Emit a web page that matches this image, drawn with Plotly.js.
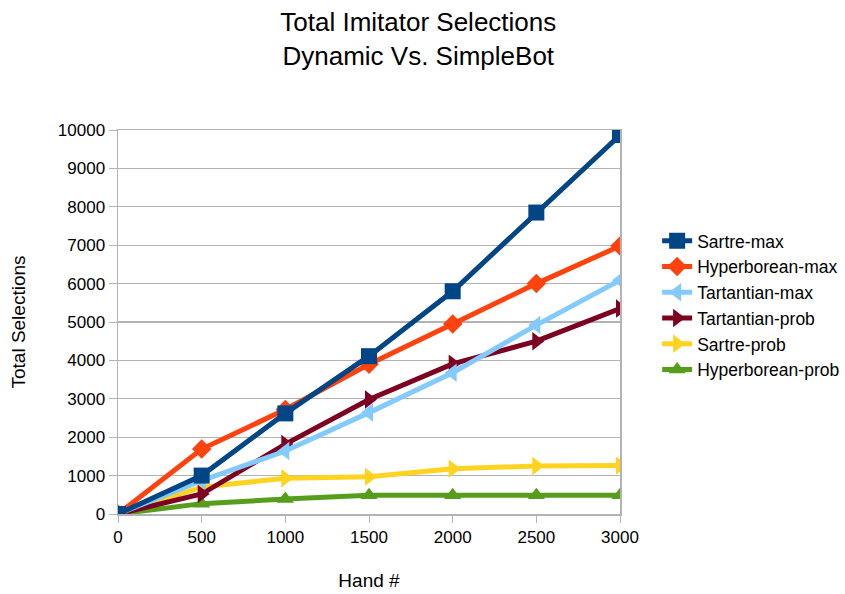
<!DOCTYPE html>
<html>
<head>
<meta charset="utf-8">
<script src="https://cdn.plot.ly/plotly-3.0.1.min.js"></script>
<style>
  html, body { margin: 0; padding: 0; background: #fff; }
  #chart { width: 845px; height: 594px; }
</style>
</head>
<body>
<div id="chart"></div>
<script>
// Hand numbers on the x axis
const hands = [0, 500, 1000, 1500, 2000, 2500, 3000];

// Cumulative imitator selections per bot configuration
const sartreMax = [0, 1000, 2620, 4110, 5800, 7850, 9870];
const hyperboreanMax = [0, 1690, 2720, 3900, 4950, 6000, 6980];
const tartantianMax = [0, 870, 1640, 2640, 3680, 4920, 6090];
const tartantianProb = [0, 520, 1820, 2980, 3910, 4500, 5350];
const sartreProb = [0, 700, 930, 970, 1180, 1250, 1260];
const hyperboreanProb = [0, 270, 390, 490, 490, 490, 490];

const seriesNames = ['Sartre-max', 'Hyperborean-max', 'Tartantian-max',
                     'Tartantian-prob', 'Sartre-prob', 'Hyperborean-prob'];
const seriesValues = [sartreMax, hyperboreanMax, tartantianMax,
                      tartantianProb, sartreProb, hyperboreanProb];
const seriesColors = ['#004586', '#ff420e', '#83caff', '#7e0021', '#ffd320', '#579d1c'];
const seriesSymbols = ['square', 'diamond', 'triangle-left', 'triangle-right',
                       'triangle-right', 'triangle-up'];
const seriesSizes = [16, 15, 16, 16, 16, 15];

// Draw lowest-priority series first so the max series sit on top
const order = [5, 4, 3, 2, 1, 0];
const traces = order.map(i => ({
  type: 'scatter',
  mode: 'lines+markers',
  name: seriesNames[i],
  x: hands,
  y: seriesValues[i],
  line: { color: seriesColors[i], width: 5 },
  marker: { color: seriesColors[i], symbol: seriesSymbols[i], size: seriesSizes[i] },
  legendrank: i + 1
}));

const layout = {
  width: 845,
  height: 594,
  paper_bgcolor: '#ffffff',
  plot_bgcolor: '#ffffff',
  font: { family: 'Liberation Sans, Arial, sans-serif', color: '#000' },
  title: {
    text: 'Total Imitator Selections<br>Dynamic Vs. SimpleBot',
    font: { size: 26, color: '#000' },
    x: 0.495, xanchor: 'center',
    y: 0.948, yanchor: 'middle'
  },
  margin: { l: 118, r: 225, t: 130, b: 80, autoexpand: false },
  showlegend: true,
  legend: {
    x: 1.074, xanchor: 'left',
    y: 0.758, yanchor: 'top',
    font: { size: 17.5, color: '#000' },
    tracegroupgap: 0,
    itemwidth: 30,
    traceorder: 'normal'
  },
  xaxis: {
    range: [0, 3000],
    tickvals: hands,
    ticktext: hands.map(String),
    showgrid: false,
    zeroline: false,
    showline: true,
    linecolor: '#b3b3b3',
    linewidth: 1.5,
    mirror: true,
    ticks: 'outside',
    ticklen: 7,
    tickcolor: '#b3b3b3',
    tickfont: { size: 17, color: '#000' },
    title: { text: 'Hand #', font: { size: 19, color: '#000' }, standoff: 28 }
  },
  yaxis: {
    range: [0, 10000],
    dtick: 1000,
    tickformat: 'd',
    showgrid: true,
    gridcolor: '#b3b3b3',
    gridwidth: 1.2,
    zeroline: false,
    showline: true,
    linecolor: '#b3b3b3',
    linewidth: 1.5,
    mirror: true,
    ticks: 'outside',
    ticklen: 8,
    tickcolor: '#b3b3b3',
    tickfont: { size: 17, color: '#000' },
    title: { text: 'Total Selections', font: { size: 19, color: '#000' }, standoff: 27 }
  }
};

Plotly.newPlot('chart', traces, layout, { displayModeBar: false, staticPlot: true });
</script>
</body>
</html>
